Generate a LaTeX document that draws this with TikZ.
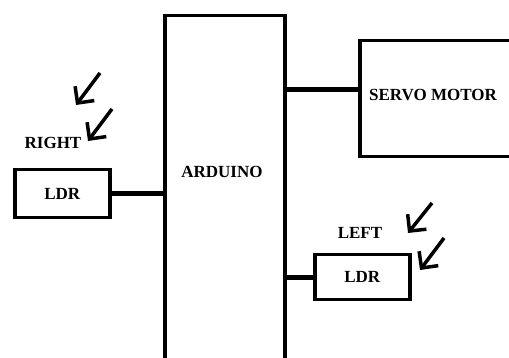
\documentclass[tikz,border=0pt]{standalone}
\usepackage{fontspec}
\setmainfont{Liberation Serif}
\usetikzlibrary{positioning,arrows.meta}
\tikzset{every picture/.style={font issue=\bfseries\fontsize{17}{19}},
            font issue/.style={execute at begin picture={#1\selectfont}}
        }

\begin{document}
\begin{tikzpicture}[x=1pt,y=-1pt,
    box/.style={draw,line width=3.5pt,inner sep=0pt,anchor=north west},
    wire/.style={line width=5pt},
    ray/.style={line width=3.5pt,-{Straight Barb[length=12pt,width=24pt,line width=3.5pt]}}]
      \useasboundingbox (0,0) rectangle (509,358);
      \clip (0,0) rectangle (509,358);
      % blocks
      \node[box,minimum width=120pt,minimum height=400pt] (ard) at (163,14) {};
      \node (ardtxt) at (222,172) {ARDUINO};
      \node[box,minimum width=200pt,minimum height=116pt] (srv) at (358,39) {};
      \node (srvtxt) at (433,95) {SERVO MOTOR};
      \node[box,minimum width=95pt,minimum height=48pt] (ldrR) at (13,168) {LDR};
      \node (rtxt) at (53,143) {RIGHT};
      \node[box,minimum width=95pt,minimum height=45pt] (ldrL) at (313,253) {LDR};
      \node (ltxt) at (360,233) {LEFT};

      % wires
      \coordinate (srvin) at (358,90);
      \draw[wire] (srvin) -- (srvin -| ard.east);
      \draw[wire] (ldrR.east) -- (ldrR.east -| ard.west);
      \draw[wire] (ldrL.west) -- (ldrL.west -| ard.east);

      % light
      \coordinate (r1a) at (100,73);  \coordinate (r1b) at (76,105);
      \coordinate (r2a) at (112,109); \coordinate (r2b) at (88,141);
      \coordinate (l1a) at (432,203); \coordinate (l1b) at (408,233);
      \coordinate (l2a) at (444,238); \coordinate (l2b) at (420,270);
      \draw[ray] (r1a) -- (r1b);
      \draw[ray] (r2a) -- (r2b);
      \draw[ray] (l1a) -- (l1b);
      \draw[ray] (l2a) -- (l2b);
    \end{tikzpicture}
\end{document}
